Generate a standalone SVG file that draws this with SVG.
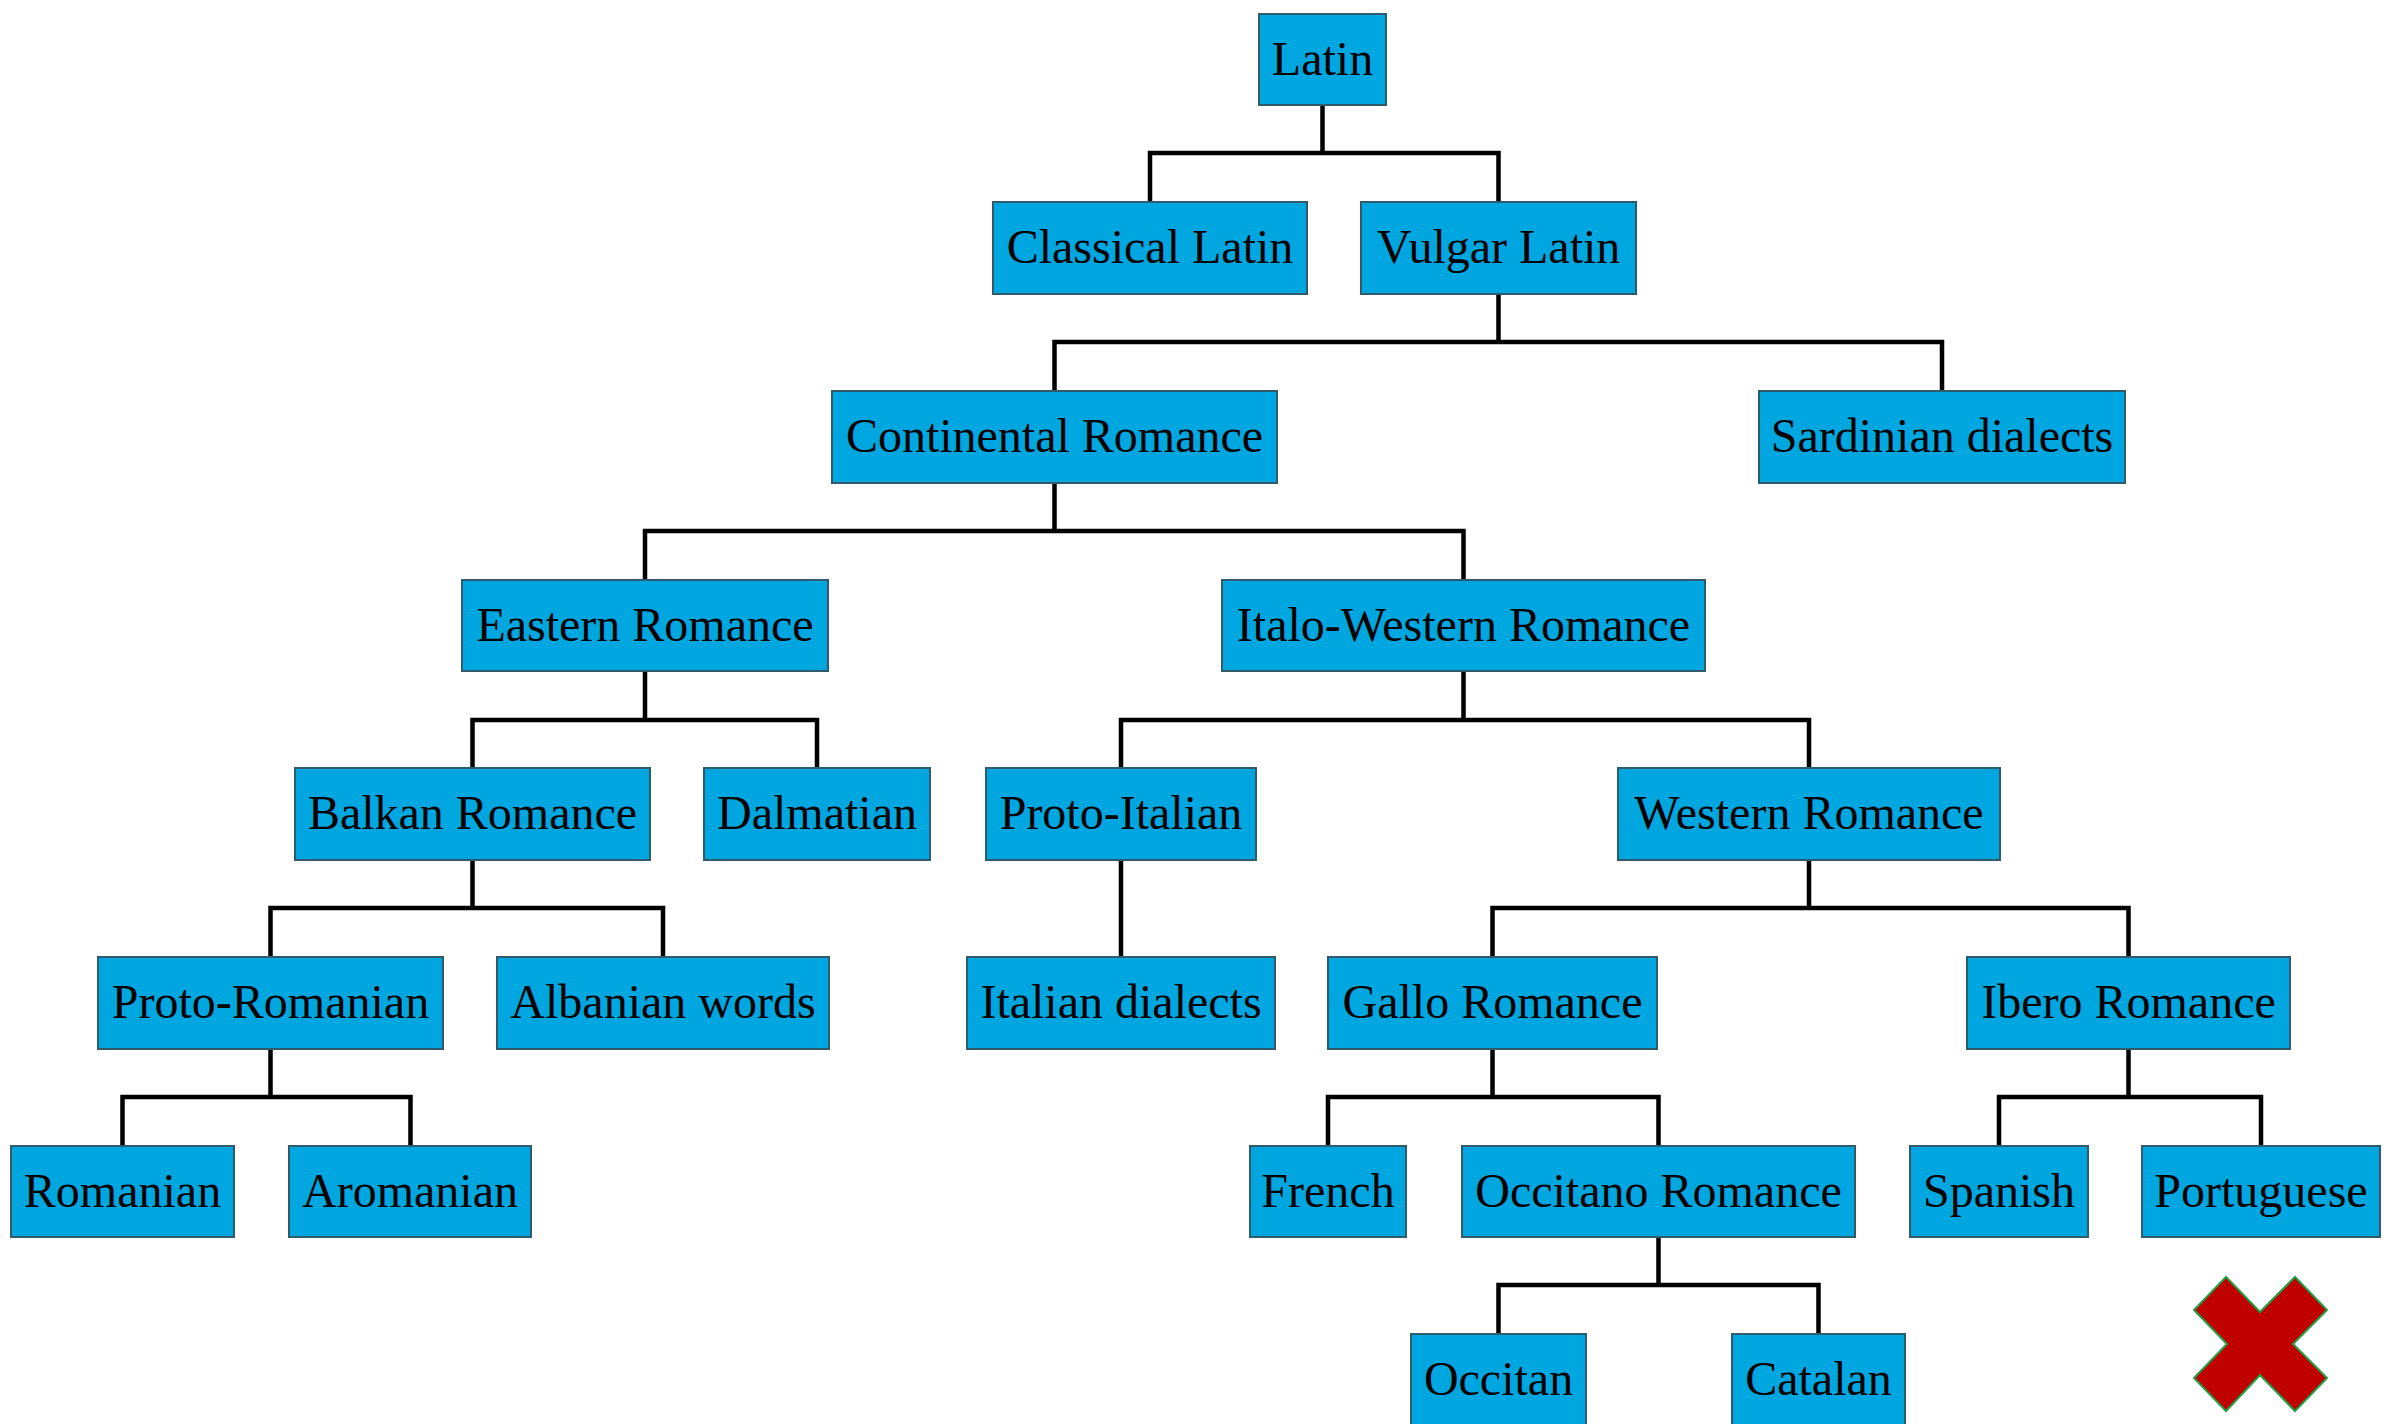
<svg xmlns="http://www.w3.org/2000/svg" width="2399" height="1424" viewBox="0 0 2399 1424">
<style>
.n rect{fill:#00A6DF;stroke:#2F5B6B;stroke-width:2}
.n text{font-family:"Liberation Serif","Times New Roman",serif;font-size:48px;fill:#000;text-anchor:middle}
.c path{fill:none;stroke:#000;stroke-width:4.5;stroke-linejoin:miter;stroke-linecap:square}
</style>
<rect width="2399" height="1424" fill="#fff"/>
<g id="connectors" class="c">
<path d="M1322.5,105 V153 M1150,202 V153 H1498.5 V202"/>
<path d="M1498.5,294 V342 M1054.5,391 V342 H1942 V391"/>
<path d="M1054.5,483 V531 M645,580 V531 H1463.5 V580"/>
<path d="M645,671 V720 M472.5,768 V720 H817 V768"/>
<path d="M1463.5,671 V720 M1121,768 V720 H1809 V768"/>
<path d="M472.5,860 V908 M270.5,957 V908 H663 V957"/>
<path d="M1121,860 V957"/>
<path d="M1809,860 V908 M1492.5,957 V908 H2128.5 V957"/>
<path d="M270.5,1049 V1097 M122.5,1146 V1097 H410.5 V1146"/>
<path d="M1492.5,1049 V1097 M1328,1146 V1097 H1658.5 V1146"/>
<path d="M2128.5,1049 V1097 M1999,1146 V1097 H2261 V1146"/>
<path d="M1658.5,1237 V1285 M1498.5,1334 V1285 H1818.5 V1334"/>
</g>
<g id="latin" class="n"><rect x="1259" y="14" width="127" height="91"/><text x="1322.5" y="75">Latin</text></g>
<g id="classical-latin" class="n"><rect x="993" y="202" width="314" height="92"/><text x="1150" y="263">Classical Latin</text></g>
<g id="vulgar-latin" class="n"><rect x="1361" y="202" width="275" height="92"/><text x="1498.5" y="263">Vulgar Latin</text></g>
<g id="continental-romance" class="n"><rect x="832" y="391" width="445" height="92"/><text x="1054.5" y="452">Continental Romance</text></g>
<g id="sardinian-dialects" class="n"><rect x="1759" y="391" width="366" height="92"/><text x="1942" y="452">Sardinian dialects</text></g>
<g id="eastern-romance" class="n"><rect x="462" y="580" width="366" height="91"/><text x="645" y="641">Eastern Romance</text></g>
<g id="italo-western-romance" class="n"><rect x="1222" y="580" width="483" height="91"/><text x="1463.5" y="641">Italo-Western Romance</text></g>
<g id="balkan-romance" class="n"><rect x="295" y="768" width="355" height="92"/><text x="472.5" y="829">Balkan Romance</text></g>
<g id="dalmatian" class="n"><rect x="704" y="768" width="226" height="92"/><text x="817" y="829">Dalmatian</text></g>
<g id="proto-italian" class="n"><rect x="986" y="768" width="270" height="92"/><text x="1121" y="829">Proto-Italian</text></g>
<g id="western-romance" class="n"><rect x="1618" y="768" width="382" height="92"/><text x="1809" y="829">Western Romance</text></g>
<g id="proto-romanian" class="n"><rect x="98" y="957" width="345" height="92"/><text x="270.5" y="1018">Proto-Romanian</text></g>
<g id="albanian-words" class="n"><rect x="497" y="957" width="332" height="92"/><text x="663" y="1018">Albanian words</text></g>
<g id="italian-dialects" class="n"><rect x="967" y="957" width="308" height="92"/><text x="1121" y="1018">Italian dialects</text></g>
<g id="gallo-romance" class="n"><rect x="1328" y="957" width="329" height="92"/><text x="1492.5" y="1018">Gallo Romance</text></g>
<g id="ibero-romance" class="n"><rect x="1967" y="957" width="323" height="92"/><text x="2128.5" y="1018">Ibero Romance</text></g>
<g id="romanian" class="n"><rect x="11" y="1146" width="223" height="91"/><text x="122.5" y="1207">Romanian</text></g>
<g id="aromanian" class="n"><rect x="289" y="1146" width="242" height="91"/><text x="410" y="1207">Aromanian</text></g>
<g id="french" class="n"><rect x="1250" y="1146" width="156" height="91"/><text x="1328" y="1207">French</text></g>
<g id="occitano-romance" class="n"><rect x="1462" y="1146" width="393" height="91"/><text x="1658.5" y="1207">Occitano Romance</text></g>
<g id="spanish" class="n"><rect x="1910" y="1146" width="178" height="91"/><text x="1999" y="1207">Spanish</text></g>
<g id="portuguese" class="n"><rect x="2142" y="1146" width="238" height="91"/><text x="2261" y="1207">Portuguese</text></g>
<g id="occitan" class="n"><rect x="1411" y="1334" width="175" height="92"/><text x="1498.5" y="1395">Occitan</text></g>
<g id="catalan" class="n"><rect x="1732" y="1334" width="173" height="92"/><text x="1818.5" y="1395">Catalan</text></g>
<g id="cross">
<polygon points="2226,1277 2260,1312 2295,1277 2327,1310 2293,1344 2327,1378 2295,1411 2260,1375 2226,1411 2194,1378 2227,1344 2194,1310" fill="#C00000" stroke="#1E9E3E" stroke-width="2" stroke-linejoin="miter"/>
</g>
</svg>
